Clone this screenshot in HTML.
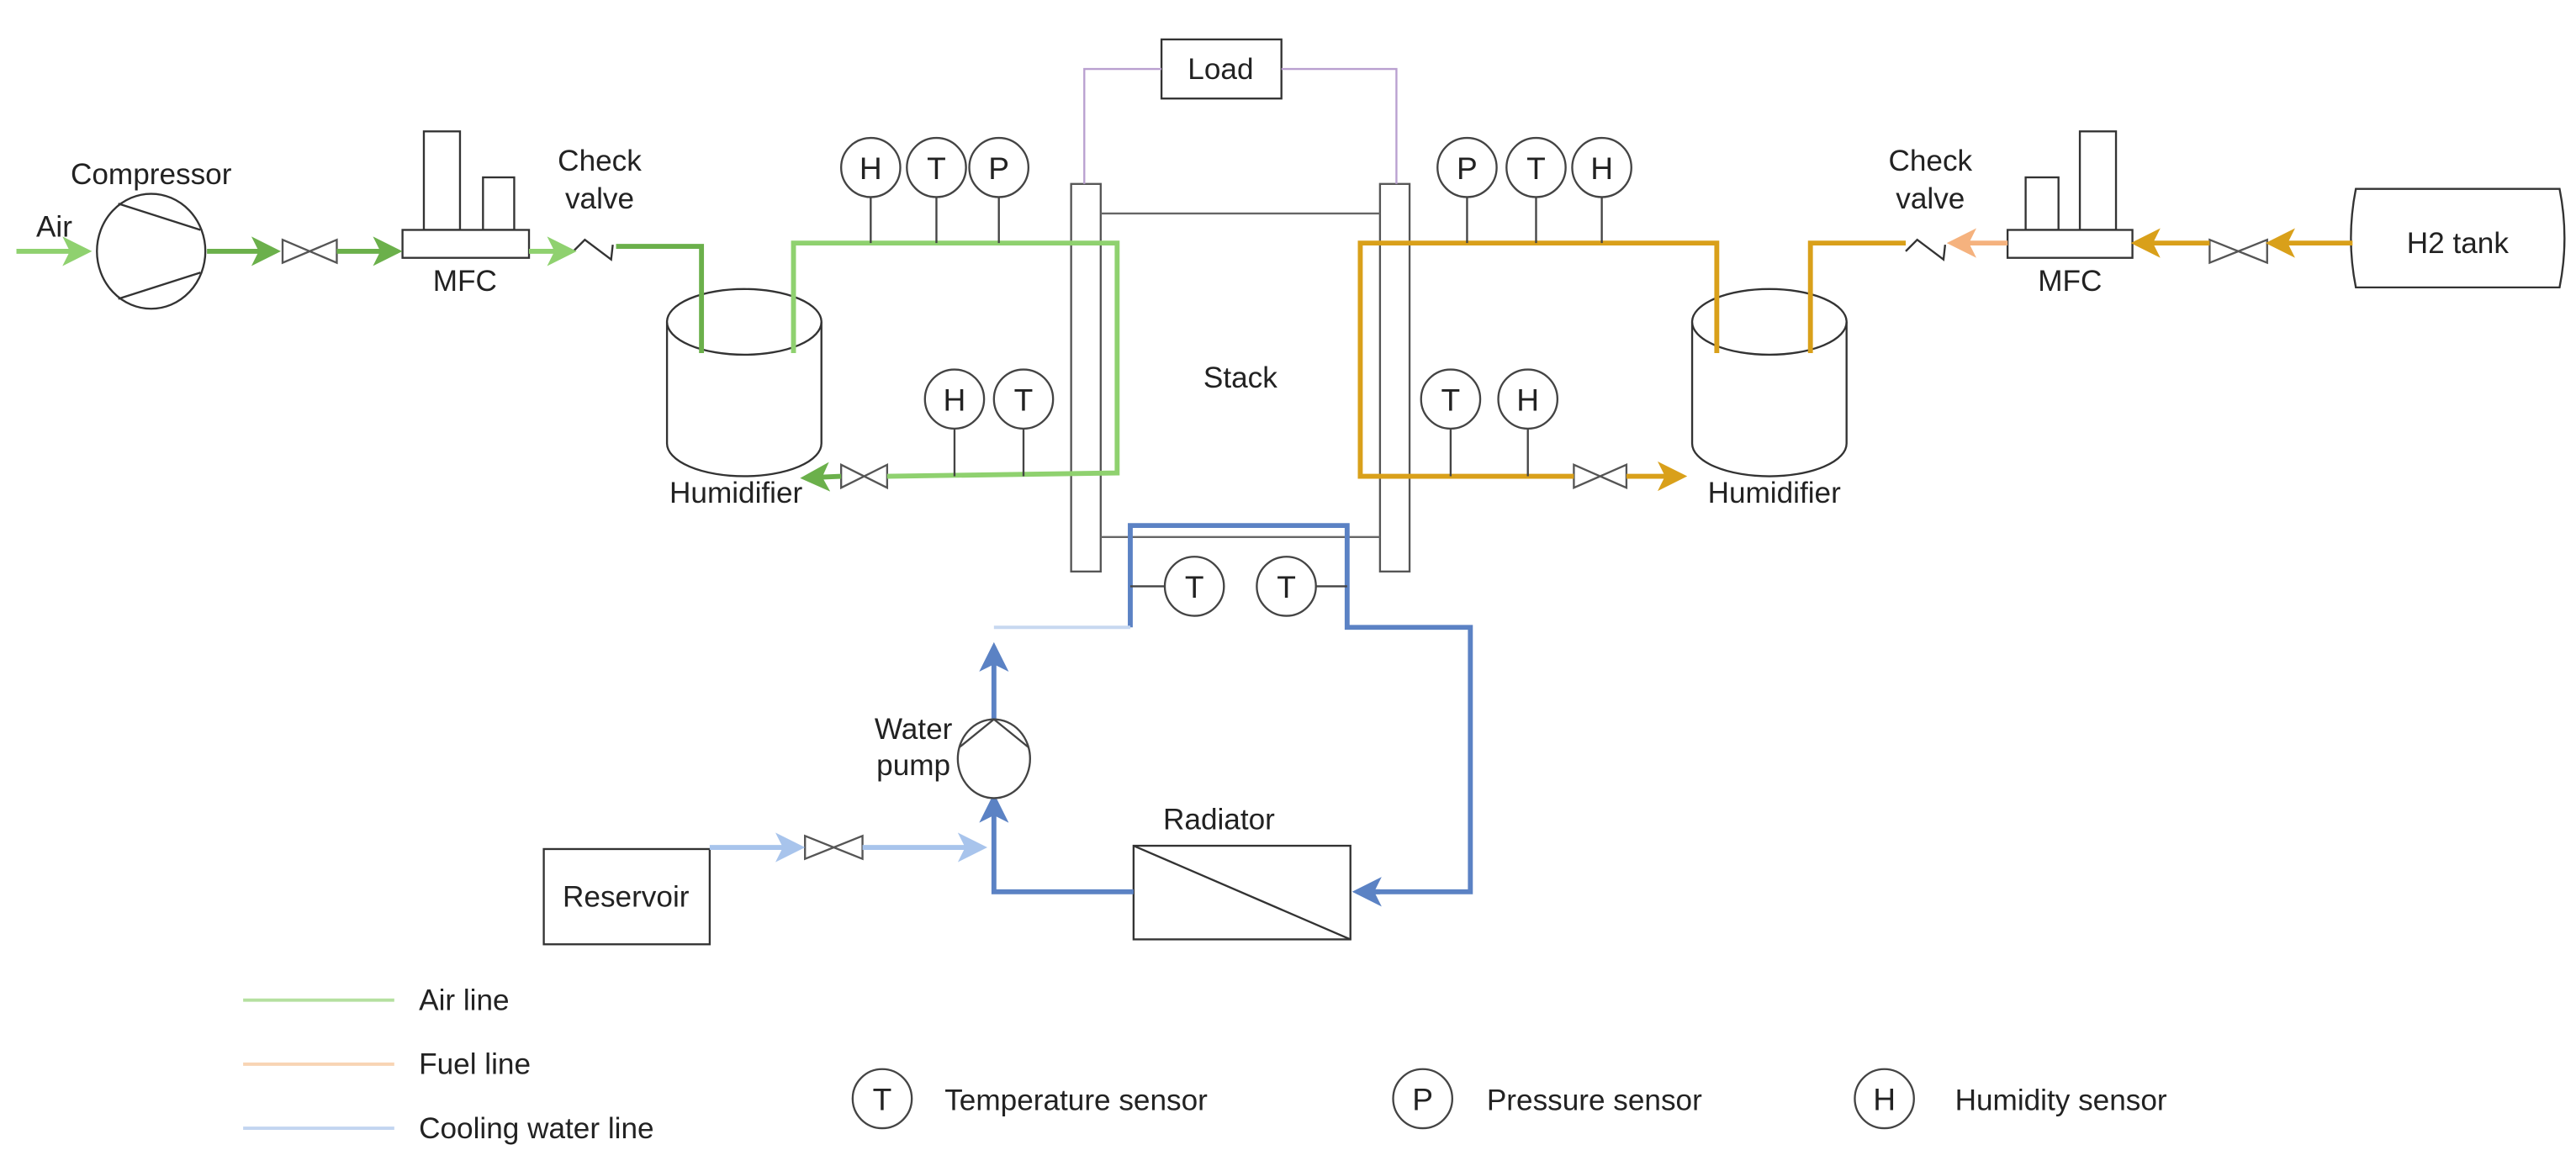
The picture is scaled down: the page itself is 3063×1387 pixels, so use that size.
<!DOCTYPE html>
<html><head><meta charset="utf-8"><style>
html,body{margin:0;padding:0;background:#fff;}
svg{display:block;}
text{font-family:"Liberation Sans",sans-serif;fill:#222;}
</style></head><body>
<svg width="3063" height="1387" viewBox="0 0 1568 710" preserveAspectRatio="none" xmlns="http://www.w3.org/2000/svg">
<defs>
<marker id="ag" markerWidth="6" markerHeight="6" refX="5" refY="3" orient="auto" markerUnits="strokeWidth"><path d="M0,0 L6,3 L0,6 L1.5,3z" fill="#6bb04b"/></marker>
<marker id="agl" markerWidth="6" markerHeight="6" refX="5" refY="3" orient="auto" markerUnits="strokeWidth"><path d="M0,0 L6,3 L0,6 L1.5,3z" fill="#8fd16f"/></marker>
<marker id="ao" markerWidth="6" markerHeight="6" refX="5" refY="3" orient="auto" markerUnits="strokeWidth"><path d="M0,0 L6,3 L0,6 L1.5,3z" fill="#d9a01a"/></marker>
<marker id="aol" markerWidth="6" markerHeight="6" refX="5" refY="3" orient="auto" markerUnits="strokeWidth"><path d="M0,0 L6,3 L0,6 L1.5,3z" fill="#f5b27e"/></marker>
<marker id="ab" markerWidth="6" markerHeight="6" refX="5" refY="3" orient="auto" markerUnits="strokeWidth"><path d="M0,0 L6,3 L0,6 L1.5,3z" fill="#5b82c4"/></marker>
<marker id="abl" markerWidth="6" markerHeight="6" refX="5" refY="3" orient="auto" markerUnits="strokeWidth"><path d="M0,0 L6,3 L0,6 L1.5,3z" fill="#a8c4ec"/></marker>
</defs>
<g fill="none" stroke="#333" stroke-width="1.2">
<ellipse cx="92" cy="153" rx="33" ry="35" fill="#fff"/>
<line x1="72" y1="124" x2="122" y2="140"/><line x1="72" y1="182" x2="122" y2="166"/>
<path d="M172,146 L205,160 L205,146 L172,160Z" fill="#fff" stroke="#555"/>
<path d="M512,283 L540,297 L540,283 L512,297Z" fill="#fff" stroke="#555"/>
<path d="M958,283 L990,297 L990,283 L958,297Z" fill="#fff" stroke="#555"/>
<path d="M1345,146 L1380,160 L1380,146 L1345,160Z" fill="#fff" stroke="#555"/>
<path d="M490,509 L525,523 L525,509 L490,523Z" fill="#fff" stroke="#555"/>
<rect x="258" y="80" width="22" height="60" fill="#fff"/><rect x="294" y="108" width="19" height="32" fill="#fff"/>
<rect x="245" y="140" width="77" height="17" fill="#fff"/>
<rect x="1233" y="108" width="20" height="32" fill="#fff"/><rect x="1266" y="80" width="22" height="60" fill="#fff"/>
<rect x="1222" y="140" width="76" height="17" fill="#fff"/>
<path d="M349,153 L356,146 L372,158 L373,149"/>
<path d="M1160,153 L1167,146 L1183,158 L1184,149"/>
<path d="M406,196 L406,270 A47,20 0 0 0 500,270 L500,196" fill="#fff"/>
<ellipse cx="453" cy="196" rx="47" ry="20" fill="#fff"/>
<path d="M1030,196 L1030,270 A47,20 0 0 0 1124,270 L1124,196" fill="#fff"/>
<ellipse cx="1077" cy="196" rx="47" ry="20" fill="#fff"/>
<rect x="707" y="24" width="73" height="36"/>
<rect x="652" y="112" width="18" height="236" stroke="#555"/>
<rect x="840" y="112" width="18" height="236" stroke="#555"/>
<line x1="670" y1="130" x2="840" y2="130" stroke="#666"/>
<line x1="670" y1="327" x2="840" y2="327" stroke="#666"/>
<rect x="690" y="515" width="132" height="57"/><line x1="690" y1="515" x2="822" y2="572"/>
<rect x="331" y="517" width="101" height="58"/>
<path d="M1434,115 L1558,115 Q1564,145 1558,175 L1434,175 Q1428,145 1434,115Z"/>
</g>
<g fill="none" stroke="#b9a0d0" stroke-width="1.2">
<polyline points="660,112 660,42 707,42"/><polyline points="780,42 850,42 850,112"/>
</g>
<g fill="none" stroke-width="3">
<line x1="10" y1="153" x2="53" y2="153" stroke="#8fd16f" marker-end="url(#agl)"/>
<line x1="126" y1="153" x2="168" y2="153" stroke="#6bb04b" marker-end="url(#ag)"/>
<line x1="205" y1="153" x2="242" y2="153" stroke="#6bb04b" marker-end="url(#ag)"/>
<line x1="322" y1="153" x2="348" y2="153" stroke="#8fd16f" marker-end="url(#agl)"/>
<polyline points="375,150 427,150 427,215" stroke="#6bb04b"/>
<polyline points="483,215 483,148 680,148 680,288 540,290" stroke="#8fd16f"/>
<line x1="512" y1="290" x2="490" y2="291" stroke="#6bb04b" marker-end="url(#ag)"/>
<polyline points="1045,215 1045,148 828,148 828,290 958,290" stroke="#d9a01a"/>
<line x1="990" y1="290" x2="1024" y2="290" stroke="#d9a01a" marker-end="url(#ao)"/>
<polyline points="1102,215 1102,148 1160,148" stroke="#d9a01a"/>
<line x1="1222" y1="148" x2="1188" y2="148" stroke="#f5b27e" marker-end="url(#aol)"/>
<line x1="1345" y1="148" x2="1300" y2="148" stroke="#d9a01a" marker-end="url(#ao)"/>
<line x1="1432" y1="148" x2="1382" y2="148" stroke="#d9a01a" marker-end="url(#ao)"/>
<polyline points="688,382 688,320 820,320 820,382 895,382 895,543 826,543" stroke="#5b82c4"/>
<line x1="840" y1="543" x2="826" y2="543" stroke="#5b82c4" marker-end="url(#ab)"/>
<polyline points="690,543 605,543 605,486" stroke="#5b82c4" marker-end="url(#ab)"/>
<line x1="605" y1="438" x2="605" y2="394" stroke="#5b82c4" marker-end="url(#ab)"/>
<polyline points="605,382 688,382" stroke="#c7d8f0" stroke-width="2"/>
<line x1="432" y1="516" x2="487" y2="516" stroke="#a8c4ec" marker-end="url(#abl)"/>
<line x1="525" y1="516" x2="598" y2="516" stroke="#a8c4ec" marker-end="url(#abl)"/>
</g>
<g fill="#fff" stroke="#444" stroke-width="1.2">
<ellipse cx="605" cy="462" rx="22" ry="24"/>
<polyline points="584,455 605,438 626,455" fill="none"/>
</g>
<g stroke="#444" stroke-width="1.2" fill="#fff">
<line x1="530" y1="119" x2="530" y2="148"/><line x1="570" y1="119" x2="570" y2="148"/><line x1="608" y1="119" x2="608" y2="148"/>
<line x1="581" y1="260" x2="581" y2="290"/><line x1="623" y1="260" x2="623" y2="290"/>
<line x1="893" y1="119" x2="893" y2="148"/><line x1="935" y1="119" x2="935" y2="148"/><line x1="975" y1="119" x2="975" y2="148"/>
<line x1="883" y1="260" x2="883" y2="290"/><line x1="930" y1="260" x2="930" y2="290"/>
<line x1="688" y1="357" x2="710" y2="357"/><line x1="800" y1="357" x2="820" y2="357"/>
<ellipse cx="530" cy="102" rx="18" ry="18"/><ellipse cx="570" cy="102" rx="18" ry="18"/><ellipse cx="608" cy="102" rx="18" ry="18"/>
<ellipse cx="581" cy="243" rx="18" ry="18"/><ellipse cx="623" cy="243" rx="18" ry="18"/>
<ellipse cx="893" cy="102" rx="18" ry="18"/><ellipse cx="935" cy="102" rx="18" ry="18"/><ellipse cx="975" cy="102" rx="18" ry="18"/>
<ellipse cx="883" cy="243" rx="18" ry="18"/><ellipse cx="930" cy="243" rx="18" ry="18"/>
<ellipse cx="727" cy="357" rx="18" ry="18"/><ellipse cx="783" cy="357" rx="18" ry="18"/>
<ellipse cx="537" cy="669" rx="18" ry="18"/><ellipse cx="866" cy="669" rx="18" ry="18"/><ellipse cx="1147" cy="669" rx="18" ry="18"/>
</g>
<g font-size="19" text-anchor="middle">
<text x="530" y="109">H</text><text x="570" y="109">T</text><text x="608" y="109">P</text>
<text x="581" y="250">H</text><text x="623" y="250">T</text>
<text x="893" y="109">P</text><text x="935" y="109">T</text><text x="975" y="109">H</text>
<text x="883" y="250">T</text><text x="930" y="250">H</text>
<text x="727" y="364">T</text><text x="783" y="364">T</text>
<text x="537" y="676">T</text><text x="866" y="676">P</text><text x="1147" y="676">H</text>
</g>
<g font-size="18">
<text x="22" y="144">Air</text>
<text x="92" y="112" text-anchor="middle">Compressor</text>
<text x="283" y="177" text-anchor="middle">MFC</text>
<text x="365" y="104" text-anchor="middle">Check</text><text x="365" y="127" text-anchor="middle">valve</text>
<text x="448" y="306" text-anchor="middle">Humidifier</text>
<text x="743" y="48" text-anchor="middle">Load</text>
<text x="755" y="236" text-anchor="middle">Stack</text>
<text x="1080" y="306" text-anchor="middle">Humidifier</text>
<text x="1260" y="177" text-anchor="middle">MFC</text>
<text x="1175" y="104" text-anchor="middle">Check</text><text x="1175" y="127" text-anchor="middle">valve</text>
<text x="1496" y="154" text-anchor="middle">H2 tank</text>
<text x="742" y="505" text-anchor="middle">Radiator</text>
<text x="381" y="552" text-anchor="middle">Reservoir</text>
<text x="556" y="450" text-anchor="middle">Water</text><text x="556" y="472" text-anchor="middle">pump</text>
<text x="255" y="615">Air line</text>
<text x="255" y="654">Fuel line</text>
<text x="255" y="693">Cooling water line</text>
<text x="575" y="676">Temperature sensor</text>
<text x="905" y="676">Pressure sensor</text>
<text x="1190" y="676">Humidity sensor</text>
</g>
<g stroke-width="2">
<line x1="148" y1="609" x2="240" y2="609" stroke="#b5e0a0"/>
<line x1="148" y1="648" x2="240" y2="648" stroke="#f8d4b4"/>
<line x1="148" y1="687" x2="240" y2="687" stroke="#c2d5f0"/>
</g>
</svg>
</body></html>
